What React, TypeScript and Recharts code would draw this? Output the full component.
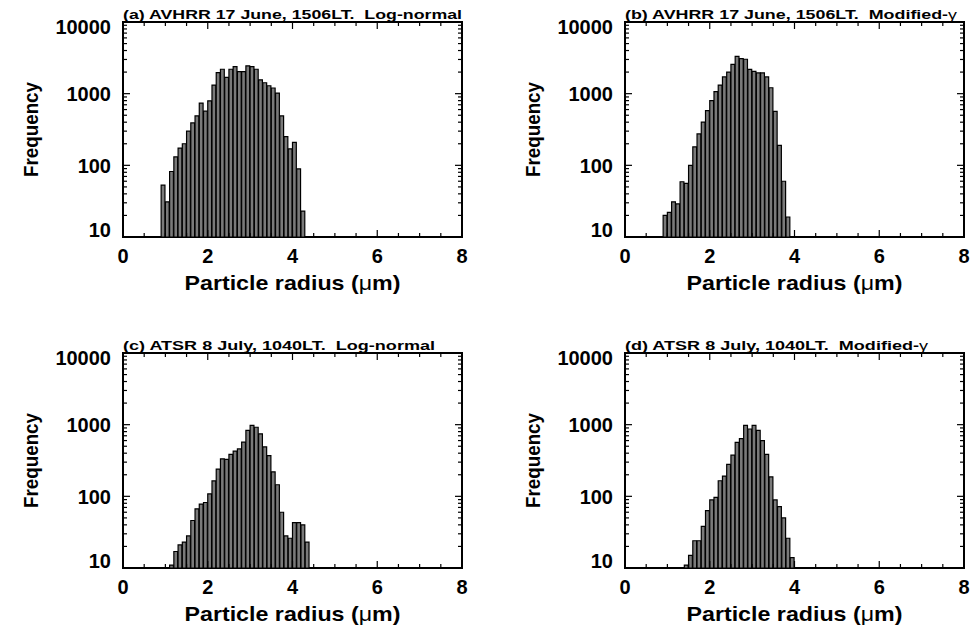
import { BarChart, Bar, XAxis, YAxis, ReferenceArea } from "recharts";

const BIN = 0.1; // bin width in microns

// (a) AVHRR 17 June, 1506LT, log-normal
const avhrrLogStart = 0.9;
const avhrrLogCounts = [
    53, 31, 82, 131, 174, 200, 300, 390, 490, 740, 570, 795, 1320, 1960, 2190, 1690, 2190,
    2390, 2030, 2030, 2450, 2390, 2190, 1560, 1420, 1290, 1200, 1020, 490, 252, 170, 209, 89, 23,
];

// (b) AVHRR 17 June, 1506LT, modified gamma
const avhrrGammaStart = 0.9;
const avhrrGammaCounts = [
    20, 22, 31, 29, 59, 56, 100, 181, 274, 400, 580, 800, 1070, 1320, 1710, 2000, 2560,
    3320, 3080, 3020, 2180, 2050, 1950, 1950, 1710, 1210, 565, 190, 60, 19,
];

// (c) ATSR 8 July, 1040LT, log-normal
const atsrLogStart = 1.1;
const atsrLogCounts = [
    11, 17, 21, 23, 28, 46, 67, 78, 82, 108, 164, 240, 334, 328, 384, 428, 458, 570, 830,
    980, 920, 745, 490, 370, 220, 145, 60, 28, 26, 43, 43, 40, 23,
];

// (d) ATSR 8 July, 1040LT, modified gamma
const atsrGammaStart = 1.4;
const atsrGammaCounts = [
    11, 15, 24, 24, 38, 63, 89, 97, 165, 192, 280, 375, 565, 640, 980, 870, 980, 830, 600,
    385, 187, 89, 72, 50, 26, 14,
];

const xMajor = [0, 2, 4, 6, 8];
const xTicks = [0, 0.5, 1, 1.5, 2, 2.5, 3, 3.5, 4, 4.5, 5, 5.5, 6, 6.5, 7, 7.5, 8];
const yMajor = [10, 100, 1000, 10000];
const yTicks = [
    10, 20, 30, 40, 50, 60, 70, 80, 90,
    100, 200, 300, 400, 500, 600, 700, 800, 900,
    1000, 2000, 3000, 4000, 5000, 6000, 7000, 8000, 9000, 10000,
];

// layout
const CHART_W = 490;
const CHART_H = 310;
const PLOT_L = 123;
const PLOT_T = 22;
const PLOT_W = 339;
const PLOT_H = 215;
const X_AXIS_H = 60;
const BAR_W = (PLOT_W * BIN) / 8;
const FONT = "'Liberation Sans', Arial, Helvetica, sans-serif";

const toRows = (start: number, counts: number[]) =>
    counts.map((n, i) => ({ r: +(start + BIN * (i + 0.5)).toFixed(2), n }));

const XTick = (props: any) => {
    const { x, y, payload } = props;
    const v = payload.value;
    const major = xMajor.includes(v);
    const len = major ? 7 : 4;
    return (
        <g>
            <line x1={x} x2={x} y1={y} y2={y - len} stroke="#000" strokeWidth={1.2} />
            <line x1={x} x2={x} y1={y - PLOT_H} y2={y - PLOT_H + len} stroke="#000" strokeWidth={1.2} />
            {major && (
                <text x={x} y={y + 26} textAnchor="middle" fontSize={20} fontWeight="bold" fontFamily={FONT} fill="#000">
                    {v}
                </text>
            )}
        </g>
    );
};

const YTick = (props: any) => {
    const { x, y, payload } = props;
    const v = payload.value;
    const major = yMajor.includes(v);
    const len = major ? 7 : 4;
    let shift = 0;
    if (v === 10) shift = -7; // bottom label sits a little above the axis
    if (v === 10000) shift = 5;
    return (
        <g>
            <line x1={x} x2={x + len} y1={y} y2={y} stroke="#000" strokeWidth={1.2} />
            <line x1={x + PLOT_W - len} x2={x + PLOT_W} y1={y} y2={y} stroke="#000" strokeWidth={1.2} />
            {major && (
                <text x={x - 12} y={y + shift} dy="0.36em" textAnchor="end" fontSize={20} fontWeight="bold" fontFamily={FONT} fill="#000">
                    {v}
                </text>
            )}
        </g>
    );
};

const panels = [
    { key: "a", left: 0, top: 0, title: "(a) AVHRR 17 June, 1506LT.  Log-normal", gamma: false, titleW: 339, rows: toRows(avhrrLogStart, avhrrLogCounts) },
    { key: "b", left: 502, top: 0, title: "(b) AVHRR 17 June, 1506LT.  Modified-", gamma: true, titleW: 332, rows: toRows(avhrrGammaStart, avhrrGammaCounts) },
    { key: "c", left: 0, top: 331, title: "(c) ATSR 8 July, 1040LT.  Log-normal", gamma: false, titleW: 312, rows: toRows(atsrLogStart, atsrLogCounts) },
    { key: "d", left: 502, top: 331, title: "(d) ATSR 8 July, 1040LT.  Modified-", gamma: true, titleW: 303, rows: toRows(atsrGammaStart, atsrGammaCounts) },
];

const Panel = ({ rows }: { rows: { r: number; n: number }[] }) => (
    <BarChart
        width={CHART_W}
        height={CHART_H}
        data={rows}
        margin={{ top: PLOT_T, right: CHART_W - PLOT_L - PLOT_W, bottom: CHART_H - PLOT_T - PLOT_H - X_AXIS_H, left: 0 }}
    >
        <XAxis
            dataKey="r"
            type="number"
            domain={[0, 8]}
            ticks={xTicks}
            interval={0}
            allowDataOverflow
            height={X_AXIS_H}
            axisLine={false}
            tickLine={false}
            tickSize={0}
            tickMargin={0}
            tick={XTick}
        />
        <YAxis
            type="number"
            scale="log"
            domain={[10, 10000]}
            ticks={yTicks}
            interval={0}
            allowDataOverflow
            width={PLOT_L}
            axisLine={false}
            tickLine={false}
            tickSize={0}
            tickMargin={0}
            tick={YTick}
        />
        <Bar dataKey="n" barSize={BAR_W} fill="#7a7a7a" stroke="#000" strokeWidth={1.2} isAnimationActive={false} />
        <ReferenceArea x1={0} x2={8} y1={10} y2={10000} fill="none" stroke="#000" strokeWidth={2} />
    </BarChart>
);

export default function App() {
    return (
        <div style={{ position: "absolute", left: 0, top: 0, width: 979, height: 634, background: "#fff", overflow: "hidden" }}>
            {panels.map((p) => (
                <div key={p.key} style={{ position: "absolute", left: p.left, top: p.top }}>
                    <Panel rows={p.rows} />
                </div>
            ))}
            <svg width={979} height={634} style={{ position: "absolute", left: 0, top: 0, pointerEvents: "none" }}>
                {panels.map((p) => {
                    const plotX = p.left + PLOT_L;
                    const plotY = p.top + PLOT_T;
                    const midY = plotY + PLOT_H / 2;
                    const labelX = p.left + 38;
                    return (
                        <g key={p.key} fontFamily={FONT} fill="#000">
                            <text x={plotX} y={plotY - 3} fontSize={13} fontWeight="bold" textLength={p.titleW} lengthAdjust="spacingAndGlyphs" style={{ whiteSpace: "pre" }}>
                                {p.title}
                                {p.gamma && <tspan fontWeight="normal">γ</tspan>}
                            </text>
                            <text x={labelX} y={midY} transform={`rotate(-90, ${labelX}, ${midY})`} textAnchor="middle" fontSize={21} fontWeight="bold" textLength={95} lengthAdjust="spacingAndGlyphs">
                                Frequency
                            </text>
                            <text x={plotX + PLOT_W / 2} y={plotY + PLOT_H + 53} textAnchor="middle" fontSize={21} fontWeight="bold" textLength={216} lengthAdjust="spacingAndGlyphs">
                                Particle radius (<tspan fontWeight="normal">μ</tspan>m)
                            </text>
                        </g>
                    );
                })}
            </svg>
        </div>
    );
}
